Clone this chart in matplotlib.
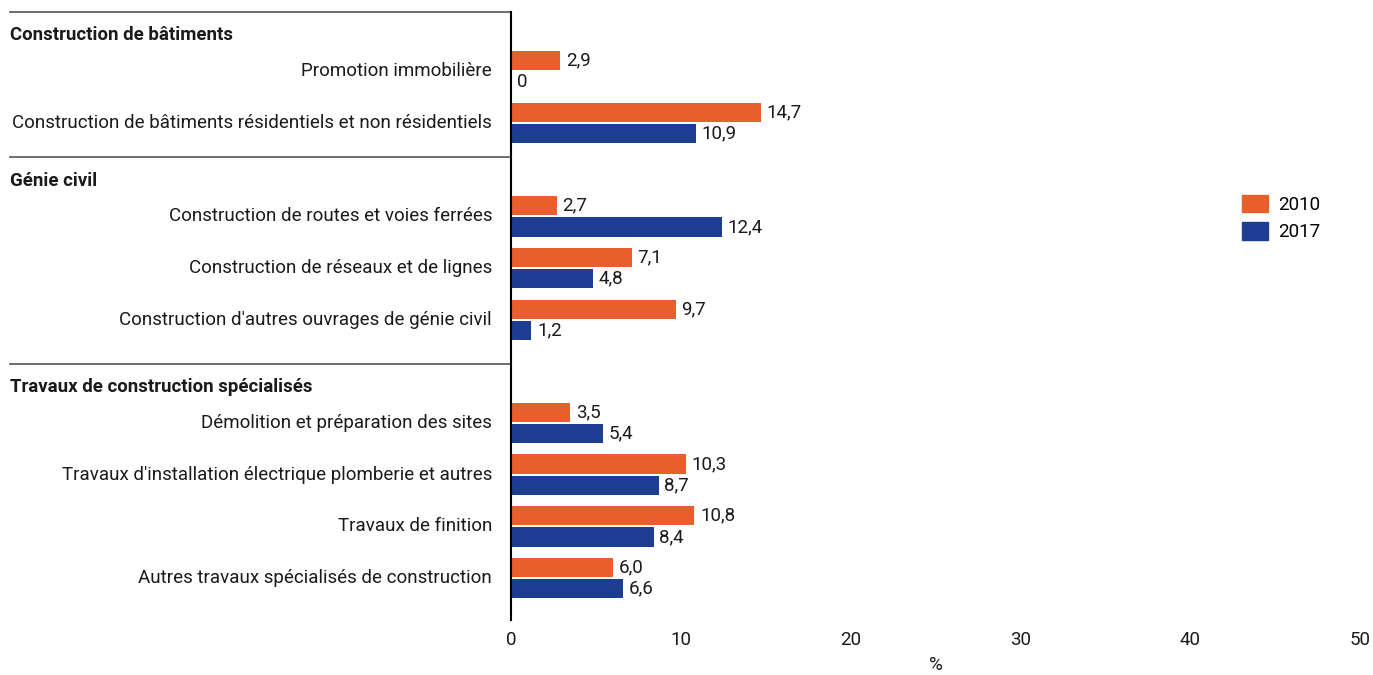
import matplotlib.pyplot as plt
import matplotlib.transforms as mtransforms
from matplotlib.patches import Patch

plt.rcParams["font.family"] = ["Roboto", "DejaVu Sans"]

groups = [
    "Construction de bâtiments",
    "Génie civil",
    "Travaux de construction spécialisés",
]
group_sizes = [2, 3, 4]
categories = [
    "Promotion immobilière",
    "Construction de bâtiments résidentiels et non résidentiels",
    "Construction de routes et voies ferrées",
    "Construction de réseaux et de lignes",
    "Construction d'autres ouvrages de génie civil",
    "Démolition et préparation des sites",
    "Travaux d'installation électrique plomberie et autres",
    "Travaux de finition",
    "Autres travaux spécialisés de construction",
]
values_2010 = [2.9, 14.7, 2.7, 7.1, 9.7, 3.5, 10.3, 10.8, 6.0]
values_2017 = [0, 10.9, 12.4, 4.8, 1.2, 5.4, 8.7, 8.4, 6.6]
series = ["2010", "2017"]
x_ticks = [0, 10, 20, 30, 40, 50]

orange = "#E95E2D"
blue = "#1C3D91"
text_col = "#1a1a1a"
fs = 13.5


def fmt(v):
    if v == 0:
        return "0"
    return f"{v:.1f}".replace(".", ",")


# row layout: separator, bold header, then the group's rows
trailing = [0.67, 0.85, 0.8]
row_y, header_y, sep_y = [], [], []
y = -1.15
for size, gap in zip(group_sizes, trailing):
    sep_y.append(y)
    header_y.append(y + 0.45)
    first = y + 1.14
    for i in range(size):
        row_y.append(first + i)
    y = first + size - 1 + gap

fig = plt.figure(figsize=(13.73, 6.75), dpi=100)
ax = fig.add_axes([0.3722, 0.0815, 0.6183, 0.9007])

h = 0.37
off = 0.205
ax.barh([r - off for r in row_y], values_2010, height=h, color=orange)
ax.barh([r + off for r in row_y], values_2017, height=h, color=blue)

for r, a, b in zip(row_y, values_2010, values_2017):
    ax.annotate(fmt(a), (a, r - off), xytext=(4, 0), textcoords="offset points",
                va="center", ha="left", fontsize=fs, color=text_col)
    ax.annotate(fmt(b), (b, r + off), xytext=(4, 0), textcoords="offset points",
                va="center", ha="left", fontsize=fs, color=text_col)

ax.set_xlim(0, 50)
ax.set_ylim(10.6, -1.15)
ax.set_xticks(x_ticks)
ax.set_xticklabels([str(t) for t in x_ticks], fontsize=fs, color=text_col)
ax.tick_params(axis="x", length=0, pad=8)
ax.set_yticks([])
ax.set_xlabel("%", fontsize=fs, color=text_col, labelpad=5)

for s in ["top", "right", "bottom"]:
    ax.spines[s].set_visible(False)
ax.spines["left"].set_color("black")
ax.spines["left"].set_linewidth(1.5)

trans = mtransforms.blended_transform_factory(ax.transAxes, ax.transData)
x_left = (10 - 511) / 849
for s in sep_y:
    ax.plot([x_left, 0], [s, s], transform=trans, color="#555555",
            linewidth=1.2, clip_on=False)
for g, hy in zip(groups, header_y):
    ax.text(x_left, hy, g, transform=trans, ha="left", va="center",
            fontsize=13.4, fontweight="bold", color=text_col)
for c, r in zip(categories, row_y):
    ax.text(-19 / 849, r, c, transform=trans, ha="right", va="center",
            fontsize=fs, color=text_col)

handles = [Patch(color=orange), Patch(color=blue)]
ax.legend(handles, series, loc="upper left", bbox_to_anchor=(0.841, 0.727),
          frameon=False, fontsize=fs, handlelength=1.4, handleheight=1.05,
          handletextpad=0.55, labelspacing=0.45)

plt.savefig("out.png", dpi=100)
